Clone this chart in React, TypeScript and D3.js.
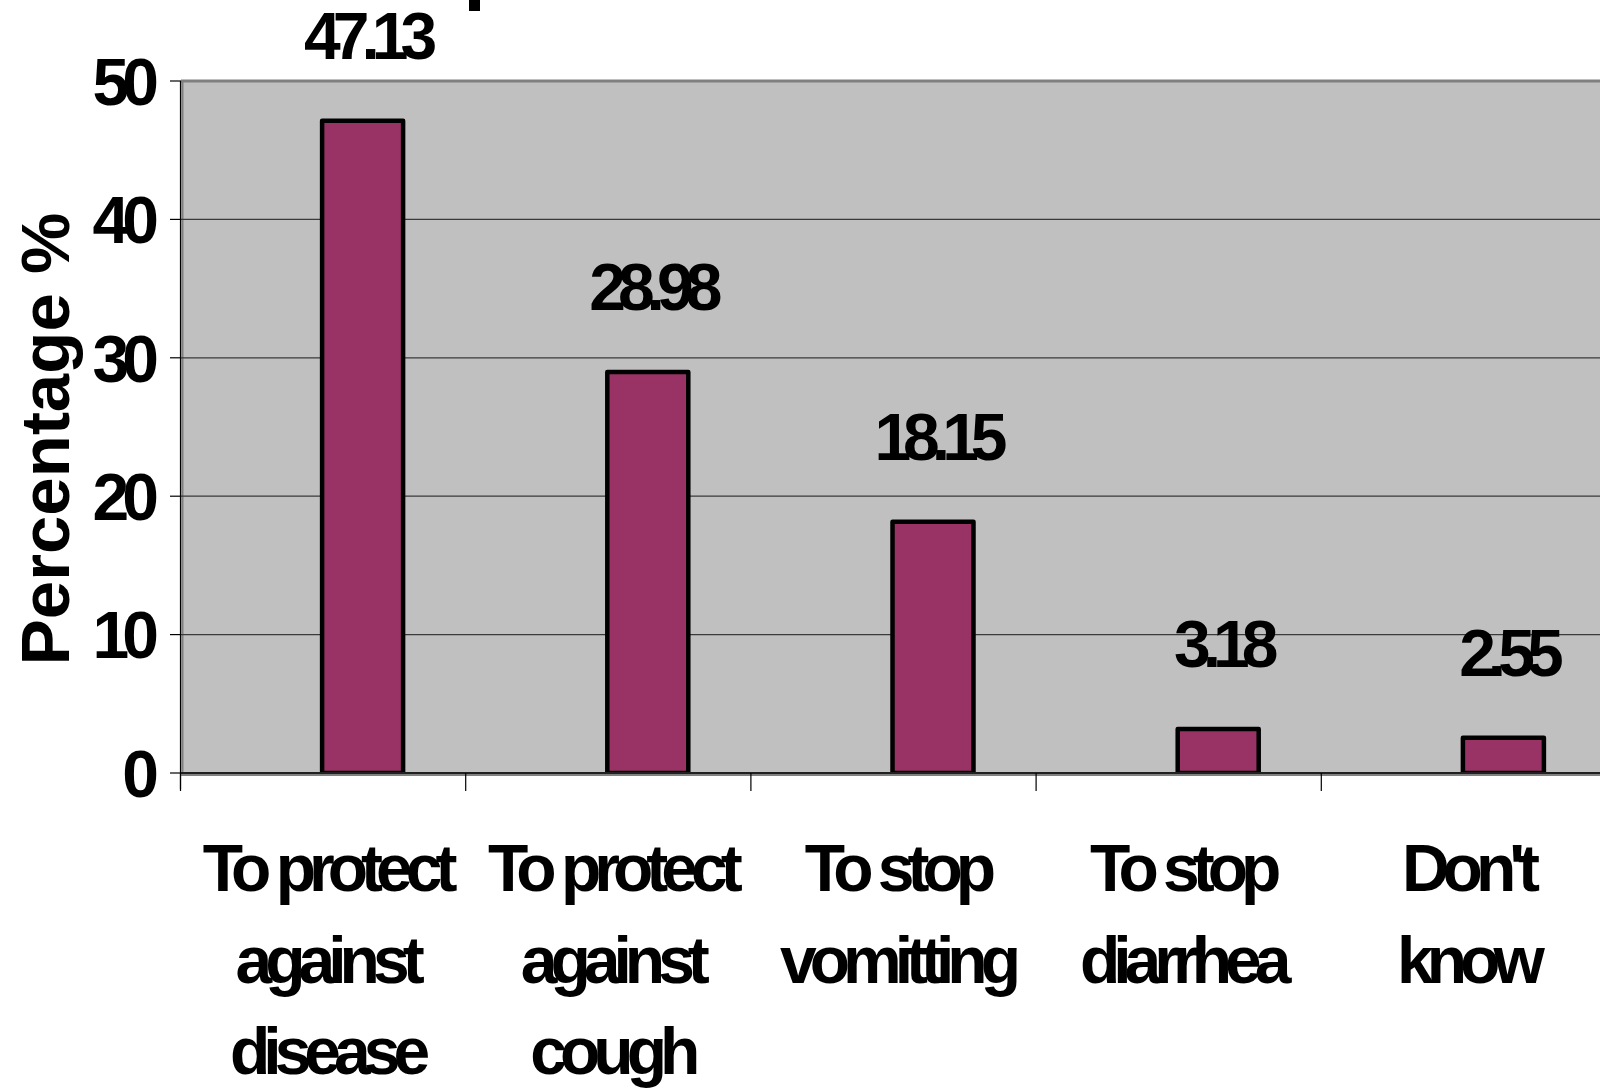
import React from "react";
import * as d3 from "d3";

const categories: string[][] = [
  ["To protect", "against", "disease"],
  ["To protect", "against", "cough"],
  ["To stop", "vomitting"],
  ["To stop", "diarrhea"],
  ["Don't", "know"],
];
const values: number[] = [47.13, 28.98, 18.15, 3.18, 2.55];
const valueLabels: string[] = ["47.13", "28.98", "18.15", "3.18", "2.55"];
const yTicks: number[] = [0, 10, 20, 30, 40, 50];
const yTitle = "Percentage %";

const W = 1600;
const H = 1091;
const plotLeft = 181;
const plotTop = 81;
const plotBottom = 773;
const bandStep = 285.2;
const FONT = "'Liberation Sans', Arial, Helvetica, sans-serif";

export default function App() {
  const y = d3.scaleLinear().domain([0, 50]).range([plotBottom, plotTop]);
  const x = d3
    .scaleBand<number>()
    .domain(d3.range(categories.length))
    .range([plotLeft, plotLeft + bandStep * categories.length])
    .paddingInner(0)
    .paddingOuter(0);
  const barW = 81;
  const barCenter = (i: number) => (x(i) as number) + 181.6;

  return (
    <svg
      width={W}
      height={H}
      style={{ position: "absolute", left: 0, top: 0 }}
      xmlns="http://www.w3.org/2000/svg"
    >
      <rect x={0} y={0} width={W} height={H} fill="#ffffff" />
      {/* fragment of cropped title */}
      <rect x={469} y={0} width={11} height={11} fill="#000" />
      {/* plot area */}
      <rect x={plotLeft} y={plotTop} width={W - plotLeft} height={plotBottom - plotTop} fill="#c0c0c0" />
      <line x1={plotLeft} x2={W} y1={plotTop} y2={plotTop} stroke="#808080" strokeWidth={3} />
      <line x1={plotLeft + 1.5} x2={plotLeft + 1.5} y1={plotTop} y2={plotBottom} stroke="#808080" strokeWidth={2} />
      {/* gridlines */}
      {yTicks
        .filter((t) => t !== 0 && t !== 50)
        .map((t) => (
          <line key={t} x1={plotLeft} x2={W} y1={y(t)} y2={y(t)} stroke="#3a3a3a" strokeWidth={1.2} />
        ))}
      {/* y axis */}
      <line x1={plotLeft - 0.5} x2={plotLeft - 0.5} y1={plotTop} y2={plotBottom + 16} stroke="#000" strokeWidth={1.2} />
      {yTicks.map((t) => (
        <g key={t}>
          <line x1={plotLeft - 11} x2={plotLeft} y1={y(t)} y2={y(t)} stroke="#000" strokeWidth={1.2} />
          <text
            x={152}
            y={y(t)}
            dy="0.36em"
            textAnchor="end"
            fontFamily={FONT}
            fontWeight="bold"
            fontSize={66}
            letterSpacing={-7}
            fill="#000"
          >
            {t}
          </text>
        </g>
      ))}
      {/* bars */}
      {values.map((v, i) => (
        <rect
          key={i}
          x={barCenter(i) - barW / 2}
          y={y(v)}
          width={barW}
          height={plotBottom - y(v)}
          fill="#993366"
          stroke="#000"
          strokeWidth={4.5}
          strokeLinejoin="round"
        />
      ))}
      {/* x axis */}
      <line x1={plotLeft} x2={W} y1={plotBottom + 1} y2={plotBottom + 1} stroke="#808080" strokeWidth={4} />
      <line x1={plotLeft} x2={W} y1={plotBottom} y2={plotBottom} stroke="#000" strokeWidth={1.5} />
      {categories.map((_, i) => (
        <line
          key={i}
          x1={(x(i) as number) - 0.5}
          x2={(x(i) as number) - 0.5}
          y1={plotBottom}
          y2={plotBottom + 18}
          stroke="#000"
          strokeWidth={1.2}
        />
      ))}
      {/* value labels */}
      {values.map((v, i) => (
        <text
          key={i}
          x={barCenter(i) + 4}
          y={y(v) - 62}
          textAnchor="middle"
          fontFamily={FONT}
          fontWeight="bold"
          fontSize={66}
          letterSpacing={-8}
          fill="#000"
        >
          {valueLabels[i]}
        </text>
      ))}
      {/* category labels */}
      {categories.map((lines, i) => (
        <text
          key={i}
          textAnchor="middle"
          fontFamily={FONT}
          fontWeight="bold"
          fontSize={66}
          letterSpacing={-7}
          fill="#000"
        >
          {lines.map((ln, j) => (
            <tspan key={j} x={(x(i) as number) + x.bandwidth() / 2 + 3} y={891 + j * 91.5}>
              {ln}
            </tspan>
          ))}
        </text>
      ))}
      {/* y title */}
      <text
        transform={`translate(69, 439) rotate(-90)`}
        textAnchor="middle"
        fontFamily={FONT}
        fontWeight="bold"
        fontSize={69}
        letterSpacing={0}
        fill="#000"
      >
        {yTitle}
      </text>
    </svg>
  );
}
